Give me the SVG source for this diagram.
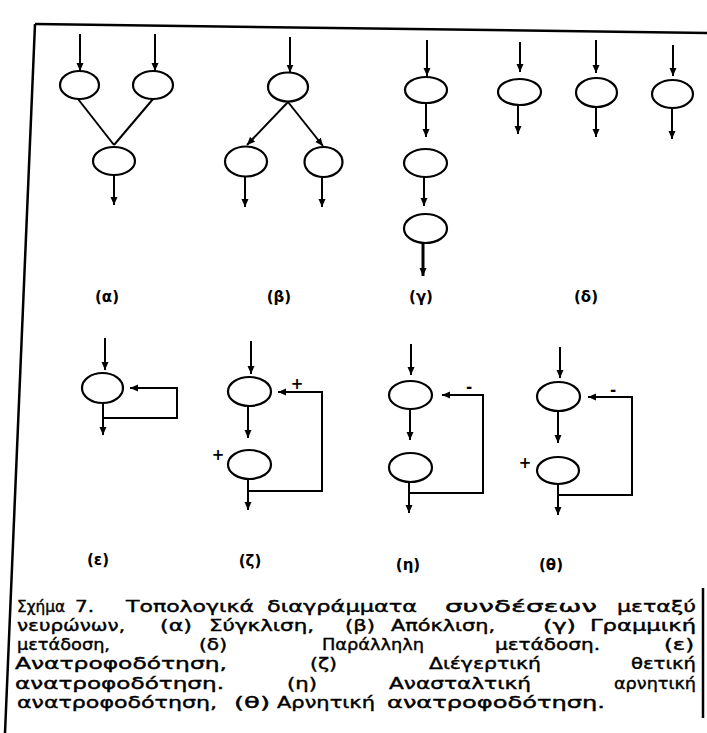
<svg xmlns="http://www.w3.org/2000/svg" width="707" height="733" viewBox="0 0 707 733">
<style>
.bg{fill:#fff}
.nd{fill:none;stroke:#000;stroke-width:2.2}
.cn{fill:none;stroke:#000;stroke-width:2}
.ar{marker-end:url(#ah)}
.fr{fill:none;stroke:#000;stroke-width:2.5}
.lb{font-family:"DejaVu Sans","Liberation Sans",sans-serif;font-size:15px;font-weight:bold;text-anchor:middle;fill:#000}
.sg{font-family:"DejaVu Sans","Liberation Sans",sans-serif;font-size:15px;font-weight:bold;text-anchor:middle;fill:#000}
.cp text{font-family:"DejaVu Sans","Liberation Sans",sans-serif;font-size:16px;fill:#000;stroke:#000;stroke-width:0.4}
</style>
<defs>
<marker id="ah" viewBox="0 0 8 8" refX="8" refY="4" markerWidth="8" markerHeight="8" markerUnits="userSpaceOnUse" orient="auto">
<path d="M0,0.5 L8,4 L0,7.5 z" fill="#000"/>
</marker>
</defs>
<rect class="bg" x="0" y="0" width="707" height="733"/>
<g id="frame">
<line class="fr" x1="35" y1="24" x2="707" y2="33"/>
<line class="fr" x1="35" y1="24" x2="5" y2="733"/>
<line class="fr" x1="703" y1="588" x2="703" y2="718"/>
</g>
<g id="nodes">
<g id="a1"><ellipse class="nd" cx="79.5" cy="85" rx="19.5" ry="14"/></g>
<g id="a2"><ellipse class="nd" cx="153" cy="85" rx="20" ry="14"/></g>
<g id="a3"><ellipse class="nd" cx="114" cy="161" rx="21" ry="14"/></g>
<g id="b1"><ellipse class="nd" cx="288" cy="87" rx="20" ry="14.5"/></g>
<g id="b2"><ellipse class="nd" cx="246" cy="161.5" rx="21" ry="15"/></g>
<g id="b3"><ellipse class="nd" cx="323.5" cy="162" rx="19" ry="15"/></g>
<g id="c1"><ellipse class="nd" cx="426" cy="90" rx="21" ry="13"/></g>
<g id="c2"><ellipse class="nd" cx="425.5" cy="163" rx="21.5" ry="14"/></g>
<g id="c3"><ellipse class="nd" cx="425.5" cy="228.5" rx="21.5" ry="14.5"/></g>
<g id="d1"><ellipse class="nd" cx="519.5" cy="92" rx="21.5" ry="13"/></g>
<g id="d2"><ellipse class="nd" cx="596.5" cy="92.5" rx="20.5" ry="14.5"/></g>
<g id="d3"><ellipse class="nd" cx="672.5" cy="94" rx="20.5" ry="14"/></g>
<g id="e1"><ellipse class="nd" cx="102.5" cy="388" rx="20.5" ry="15"/></g>
<g id="z1"><ellipse class="nd" cx="249.5" cy="391.5" rx="21.5" ry="14.5"/></g>
<g id="z2"><ellipse class="nd" cx="249.5" cy="464.5" rx="21.5" ry="14.5"/></g>
<g id="h1"><ellipse class="nd" cx="410.5" cy="395" rx="21.5" ry="14"/></g>
<g id="h2"><ellipse class="nd" cx="410.5" cy="467.5" rx="21.5" ry="14.5"/></g>
<g id="t1"><ellipse class="nd" cx="558.5" cy="396.5" rx="21.5" ry="14.5"/></g>
<g id="t2"><ellipse class="nd" cx="558" cy="470.5" rx="21" ry="13.5"/></g>
</g>
<g id="connectors">
<line class="cn ar" x1="80" y1="34" x2="80" y2="71"/>
<line class="cn ar" x1="155" y1="34" x2="155" y2="71"/>
<line class="cn" x1="78" y1="99" x2="114" y2="145"/>
<line class="cn" x1="153" y1="99" x2="114" y2="145"/>
<line class="cn ar" x1="114" y1="175" x2="114" y2="205"/>
<line class="cn ar" x1="290" y1="37" x2="290" y2="72.5"/>
<line class="cn ar" x1="288" y1="102" x2="247" y2="145"/>
<line class="cn ar" x1="288" y1="102" x2="323" y2="146"/>
<line class="cn ar" x1="245" y1="176.5" x2="245" y2="207"/>
<line class="cn ar" x1="322" y1="177" x2="322" y2="207"/>
<line class="cn ar" x1="427" y1="40" x2="427" y2="76"/>
<line class="cn ar" x1="426" y1="103" x2="426" y2="137"/>
<line class="cn ar" x1="424" y1="177" x2="424" y2="206"/>
<line class="cn ar" x1="423" y1="243" x2="423" y2="276" style="stroke-width:3"/>
<line class="cn ar" x1="520" y1="42" x2="520" y2="72"/>
<line class="cn ar" x1="596" y1="40" x2="596" y2="73"/>
<line class="cn ar" x1="673" y1="45" x2="673" y2="76"/>
<line class="cn ar" x1="518" y1="105" x2="518" y2="134"/>
<line class="cn ar" x1="596" y1="107" x2="596" y2="137"/>
<line class="cn ar" x1="672" y1="108" x2="672" y2="139"/>
<line class="cn ar" x1="105" y1="338" x2="105" y2="370"/>
<line class="cn ar" x1="103" y1="403" x2="103" y2="435"/>
<polyline class="cn ar" points="103,418 177,418 177,388 130,388"/>
<line class="cn ar" x1="251" y1="341" x2="251" y2="374"/>
<line class="cn ar" x1="248" y1="406" x2="248" y2="438"/>
<line class="cn ar" x1="248" y1="479" x2="248" y2="510"/>
<polyline class="cn ar" points="248,491 322,491 322,392 278,392"/>
<line class="cn ar" x1="411" y1="344" x2="411" y2="375"/>
<line class="cn ar" x1="410" y1="409" x2="410" y2="440"/>
<line class="cn ar" x1="409" y1="482" x2="409" y2="513"/>
<polyline class="cn ar" points="409,493 483,493 483,395 442,395"/>
<line class="cn ar" x1="560" y1="347" x2="560" y2="378"/>
<line class="cn ar" x1="558" y1="411" x2="558" y2="443"/>
<line class="cn ar" x1="558" y1="484" x2="558" y2="515"/>
<polyline class="cn ar" points="558,495 632,495 632,397 588,397"/>
</g>
<g id="signs">
<text class="sg" x="297" y="389">+</text>
<text class="sg" x="218" y="460">+</text>
<text class="sg" x="469" y="392">-</text>
<text class="sg" x="613" y="395">-</text>
<text class="sg" x="525" y="468">+</text>
</g>
<g id="labels">
<text class="lb" x="107" y="302">(α)</text>
<text class="lb" x="279" y="302">(β)</text>
<text class="lb" x="421" y="302">(γ)</text>
<text class="lb" x="586" y="302">(δ)</text>
<text class="lb" x="98" y="565">(ε)</text>
<text class="lb" x="250" y="566">(ζ)</text>
<text class="lb" x="408" y="570">(η)</text>
<text class="lb" x="551" y="570">(θ)</text>
</g>
<g id="caption" class="cp">
<text x="17" y="612" textLength="48" lengthAdjust="spacingAndGlyphs">Σχήμα</text>
<text x="75" y="612" textLength="19" lengthAdjust="spacingAndGlyphs">7.</text>
<text x="126" y="612" textLength="128" lengthAdjust="spacingAndGlyphs">Τοπολογικά</text>
<text x="267" y="612" textLength="150" lengthAdjust="spacingAndGlyphs">διαγράμματα</text>
<text x="445" y="612" textLength="152" lengthAdjust="spacingAndGlyphs">συνδέσεων</text>
<text x="617" y="612" textLength="79" lengthAdjust="spacingAndGlyphs">μεταξύ</text>

<text x="17" y="631" textLength="108" lengthAdjust="spacingAndGlyphs">νευρώνων,</text>
<text x="160" y="631" textLength="32" lengthAdjust="spacingAndGlyphs">(α)</text>
<text x="209" y="631" textLength="105" lengthAdjust="spacingAndGlyphs">Σύγκλιση,</text>
<text x="345" y="631" textLength="30" lengthAdjust="spacingAndGlyphs">(β)</text>
<text x="391" y="631" textLength="104" lengthAdjust="spacingAndGlyphs">Απόκλιση,</text>
<text x="543" y="631" textLength="33" lengthAdjust="spacingAndGlyphs">(γ)</text>
<text x="590" y="631" textLength="106" lengthAdjust="spacingAndGlyphs">Γραμμική</text>

<text x="17" y="650" textLength="93" lengthAdjust="spacingAndGlyphs">μετάδοση,</text>
<text x="199" y="650" textLength="28" lengthAdjust="spacingAndGlyphs">(δ)</text>
<text x="322" y="650" textLength="102" lengthAdjust="spacingAndGlyphs">Παράλληλη</text>
<text x="495" y="650" textLength="105" lengthAdjust="spacingAndGlyphs">μετάδοση.</text>
<text x="664" y="650" textLength="30" lengthAdjust="spacingAndGlyphs">(ε)</text>

<text x="15" y="669" textLength="212" lengthAdjust="spacingAndGlyphs">Ανατροφοδότηση,</text>
<text x="310" y="669" textLength="27" lengthAdjust="spacingAndGlyphs">(ζ)</text>
<text x="429" y="669" textLength="112" lengthAdjust="spacingAndGlyphs">Διέγερτική</text>
<text x="631" y="669" textLength="65" lengthAdjust="spacingAndGlyphs">θετική</text>

<text x="15" y="689" textLength="209" lengthAdjust="spacingAndGlyphs">ανατροφοδότηση.</text>
<text x="287" y="689" textLength="30" lengthAdjust="spacingAndGlyphs">(η)</text>
<text x="389" y="689" textLength="142" lengthAdjust="spacingAndGlyphs">Ανασταλτική</text>
<text x="614" y="689" textLength="82" lengthAdjust="spacingAndGlyphs">αρνητική</text>

<text x="17" y="708" textLength="200" lengthAdjust="spacingAndGlyphs">ανατροφοδότηση,</text>
<text x="234" y="708" textLength="36" lengthAdjust="spacingAndGlyphs">(θ)</text>
<text x="277" y="708" textLength="98" lengthAdjust="spacingAndGlyphs">Αρνητική</text>
<text x="387" y="708" textLength="218" lengthAdjust="spacingAndGlyphs">ανατροφοδότηση.</text>
</g>
</svg>
